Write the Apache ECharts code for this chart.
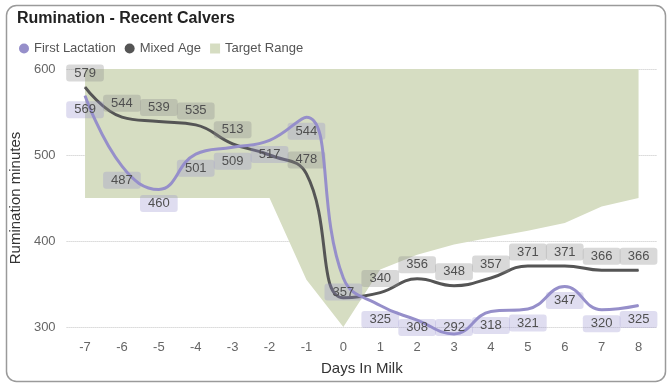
<!DOCTYPE html>
<html>
<head>
<meta charset="utf-8">
<script src="https://cdn.jsdelivr.net/npm/echarts@6/dist/echarts.min.js"></script>
<style>
html,body{margin:0;padding:0;background:#fff;}
#chart{width:668px;height:385px;}
</style>
</head>
<body>
<div id="chart"></div>
<script>
var days = ['-7','-6','-5','-4','-3','-2','-1','0','1','2','3','4','5','6','7','8'];
var firstLactation = [569,487,460,501,509,517,544,357,325,308,292,318,321,347,320,325];
var mixedAge = [579,544,539,535,513,500,478,334,340,356,348,357,371,371,366,366];
var targetLow = [450,450,450,450,450,450,355,300,367,384,396,404,412,421,440,450];
var targetHigh = [600,600,600,600,600,600,600,600,600,600,600,600,600,600,600,600];
var mixedHiddenLabels = [5,7];
var yTicks = [300,400,500,600];

var FONT = '"Liberation Sans", Arial, sans-serif';
var PURPLE = '#968fca';
var DARK = '#555555';
var GREEN = '#d6ddc2';
var PLOT_BOTTOM = 336;

var band = targetHigh.map(function(h,i){ return h - targetLow[i]; });
var mixedData = mixedAge.map(function(v,i){
  return mixedHiddenLabels.indexOf(i) >= 0 ? {value:v,label:{show:false}} : v;
});

var labelBase = {
  show:true, fontFamily:FONT, fontSize:13, color:'#505050',
  padding:[2,8], lineHeight:13, borderRadius:3, distance:5
};

var chart = echarts.init(document.getElementById('chart'), null, {renderer:'canvas'});
chart.setOption({
  animation:false,
  title:{text:'Rumination - Recent Calvers', left:12, top:6,
    textStyle:{fontFamily:FONT, fontSize:16, fontWeight:'bold', color:'#222'}},
  legend:{left:14, top:37, itemWidth:10, itemHeight:10, itemGap:9,
    textStyle:{fontFamily:FONT, fontSize:13, color:'#555'},
    data:[{name:'First Lactation', icon:'circle'},{name:'Mixed Age', icon:'circle'},{name:'Target Range', icon:'rect'}]},
  grid:{left:66, right:11, top:69, bottom:58},
  xAxis:{type:'category', data:days, boundaryGap:true,
    axisLine:{show:false}, axisTick:{show:false},
    axisLabel:{fontFamily:FONT, fontSize:13, color:'#666', margin:14},
    name:'Days In Milk', nameLocation:'middle', nameGap:34,
    nameTextStyle:{fontFamily:FONT, fontSize:15, color:'#333'}},
  yAxis:{type:'value', min:yTicks[0], max:yTicks[yTicks.length-1], interval:100,
    axisLine:{show:false}, axisTick:{show:false},
    axisLabel:{fontFamily:FONT, fontSize:13, color:'#666', margin:11},
    splitLine:{lineStyle:{type:'dotted', color:'#c4c4c4', width:1}},
    name:'Rumination minutes', nameLocation:'middle', nameGap:38,
    nameTextStyle:{fontFamily:FONT, fontSize:15, color:'#333'}},
  series:[
    {name:'TargetBase', type:'line', stack:'t', data:targetLow, symbol:'none',
      lineStyle:{width:0, opacity:0}, silent:true, z:1},
    {name:'Target Range', type:'line', stack:'t', data:band, symbol:'none',
      lineStyle:{width:0, opacity:0}, itemStyle:{color:GREEN},
      areaStyle:{color:GREEN, opacity:1}, silent:true, z:1},
    {name:'Mixed Age', type:'line', data:mixedData, smooth:0.45, clip:false,
      showSymbol:true, symbol:'circle', symbolSize:1,
      itemStyle:{color:DARK}, lineStyle:{color:DARK, width:3}, z:3,
      label:Object.assign({}, labelBase, {position:'top', backgroundColor:'rgba(140,140,140,0.33)'})},
    {name:'First Lactation', type:'line', data:firstLactation, smooth:0.45, clip:false,
      showSymbol:true, symbol:'circle', symbolSize:1,
      itemStyle:{color:PURPLE}, lineStyle:{color:PURPLE, width:3}, z:4,
      label:Object.assign({}, labelBase, {position:'bottom', backgroundColor:'rgba(150,142,205,0.3)'}),
      labelLayout:function(p){
        var r = p.labelRect;
        if (r.y + r.height > PLOT_BOTTOM) { return {dy: PLOT_BOTTOM - (r.y + r.height)}; }
        return {};
      }}
  ],
  graphic:[{type:'rect', left:4, top:3, silent:true, z:-10,
    shape:{width:659, height:376, r:10},
    style:{fill:'none', stroke:'#9a9a9a', lineWidth:1.5}}]
});
</script>
</body>
</html>
